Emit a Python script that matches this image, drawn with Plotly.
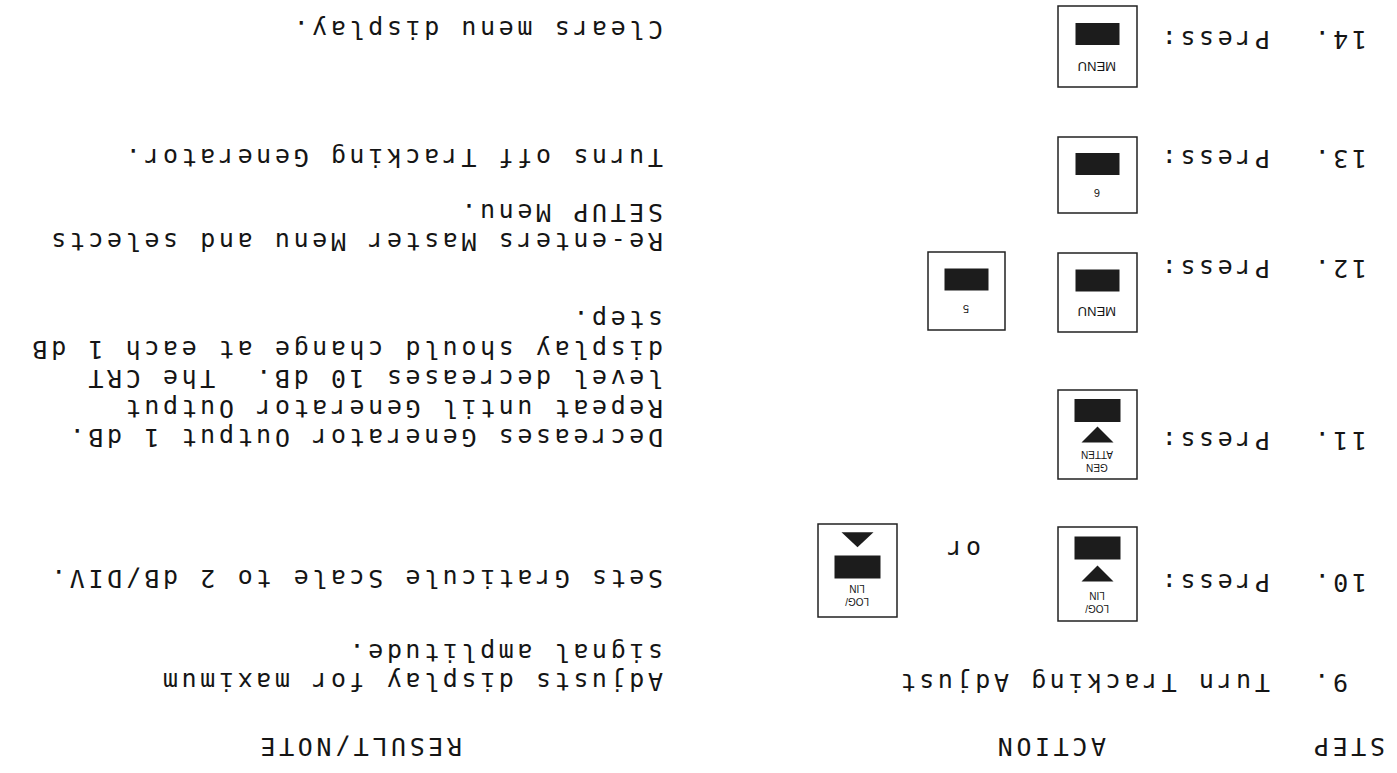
import plotly.graph_objects as go

# ---------------- content (data) ----------------
headers = ["STEP", "ACTION", "RESULT/NOTE"]
steps = ["9.", "10.", "11.", "12.", "13.", "14."]
actions = ["Turn Tracking Adjust", "Press:", "Press:", "Press:", "Press:", "Press:"]
results = [
    ["Adjusts display for maximum", "signal amplitude."],
    ["Sets Graticule Scale to 2 dB/DIV."],
    ["Decreases Generator Output 1 dB.", "Repeat until Generator Output",
     "level decreases 10 dB.  The CRT", "display should change at each 1 dB", "step."],
    ["Re-enters Master Menu and selects", "SETUP Menu."],
    ["Turns off Tracking Generator."],
    ["Clears menu display."],
]
or_text = "or"
# keys: (label, arrow as seen on the key)
keys = [
    ("LOG/<br>LIN", "up"),
    ("LOG/<br>LIN", "down"),
    ("GEN<br>ATTEN", "up"),
    ("MENU", None),
    ("5", None),
    ("6", None),
    ("MENU", None),
]

# ---------------- layout (the scanned page is upside down) ----------------
W, H = 1397, 773
FONT = "DejaVu Sans Mono"
FS = 25
LS = 3.6          # extra letter spacing (typewriter pitch)
INK = "#151515"
row_y = [683, 583, 441, 269, 159, 40]      # step / action line centres
res_y = [682, 579, 438, 242, 158, 30]      # first result line centres
pitch = 29.5
step_left = 1309
action_right = 1272
result_right = 665
header_pos = [(1348, 747), (1050, 747), (360, 747)]
or_pos = (963, 550)
key_boxes = [  # x0, x1, y0, y1
    (1058, 1137, 527, 621),
    (818, 897, 524, 617),
    (1058, 1137, 390, 479),
    (1058, 1137, 253, 332),
    (928, 1005, 252, 330),
    (1058, 1137, 137, 213),
    (1058, 1137, 6, 87),
]

fig = go.Figure()
fig.add_trace(go.Scatter(x=[0, W], y=[0, H], mode="markers",
                         marker=dict(opacity=0), hoverinfo="skip", showlegend=False))

ann = []
def txt(x, y, s, xanchor="center", size=FS, family=FONT, color=INK, spacing=LS):
    if spacing:
        s = f'<span style="letter-spacing:{spacing}px">{s}</span>'
    ann.append(dict(x=x, y=y, xref="x", yref="y", text=s, showarrow=False,
                    textangle=180, xanchor=xanchor, yanchor="middle",
                    font=dict(family=family, size=size, color=color)))

for (hx, hy), h in zip(header_pos, headers):
    txt(hx, hy, h)

for i, s in enumerate(steps):
    txt(step_left, row_y[i], s, xanchor="left")
    txt(action_right, row_y[i], actions[i], xanchor="right")
    for j, line in enumerate(results[i]):
        txt(result_right, res_y[i] - j * pitch, line, xanchor="right")

txt(or_pos[0], or_pos[1], or_text)

shapes = []
KEYFONT = "Liberation Sans"
for (label, arrow), (x0, x1, y0, y1) in zip(keys, key_boxes):
    cx = (x0 + x1) / 2
    shapes.append(dict(type="rect", xref="x", yref="y", x0=x0, x1=x1, y0=y0, y1=y1,
                       line=dict(color="#222", width=1.5), fillcolor="rgba(0,0,0,0)"))
    bh = y1 - y0
    if arrow is None:
        ry0 = y0 + 0.21 * bh
        shapes.append(dict(type="rect", xref="x", yref="y", x0=cx - 22, x1=cx + 22,
                           y0=ry0, y1=ry0 + 22, line=dict(width=0), fillcolor="#1c1c1c"))
        txt(cx, y0 + 0.74 * bh, label, size=13 if len(label) > 1 else 11,
            family=KEYFONT, spacing=0)
    elif arrow == "up":
        ry0 = y0 + 0.10 * bh
        shapes.append(dict(type="rect", xref="x", yref="y", x0=cx - 23, x1=cx + 23,
                           y0=ry0, y1=ry0 + 23, line=dict(width=0), fillcolor="#1c1c1c"))
        ty = y0 + 0.41 * bh
        shapes.append(dict(type="path", xref="x", yref="y",
                           path=f"M {cx-16},{ty+16} L {cx+16},{ty+16} L {cx},{ty} Z",
                           line=dict(width=0), fillcolor="#1c1c1c"))
        txt(cx, y0 + 0.80 * bh, label, size=10, family=KEYFONT, spacing=0)
    else:
        ty = y0 + 0.09 * bh
        shapes.append(dict(type="path", xref="x", yref="y",
                           path=f"M {cx-16},{ty} L {cx+16},{ty} L {cx},{ty+15} Z",
                           line=dict(width=0), fillcolor="#1c1c1c"))
        ry0 = y0 + 0.34 * bh
        shapes.append(dict(type="rect", xref="x", yref="y", x0=cx - 23, x1=cx + 23,
                           y0=ry0, y1=ry0 + 23, line=dict(width=0), fillcolor="#1c1c1c"))
        txt(cx, y0 + 0.77 * bh, label, size=10, family=KEYFONT, spacing=0)

fig.update_layout(
    width=W, height=H, margin=dict(l=0, r=0, t=0, b=0),
    paper_bgcolor="white", plot_bgcolor="white",
    xaxis=dict(range=[0, W], visible=False, fixedrange=True),
    yaxis=dict(range=[H, 0], visible=False, fixedrange=True),
    annotations=ann, shapes=shapes, showlegend=False,
)
fig.write_html("out.html", config={"displayModeBar": False},
               post_script="document.body.style.margin='0';")
